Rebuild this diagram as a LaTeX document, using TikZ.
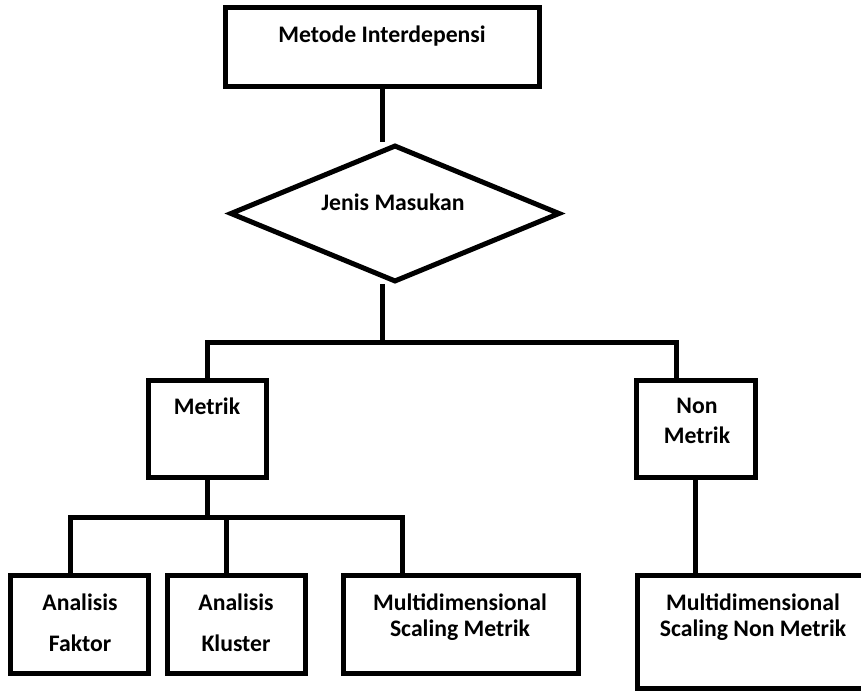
\documentclass[tikz,border=0pt]{standalone}
\usepackage{fontspec}
\setmainfont{Carlito}
\usetikzlibrary{shapes.geometric}
\begin{document}
\begin{tikzpicture}[x=1pt,y=-1pt,
  box/.style={draw=black,line width=5pt,minimum width=#1,inner sep=0pt},
  lbl/.style={font=\fontsize{23.7}{28}\selectfont\bfseries,inner sep=0pt,align=center,text=black},
  conn/.style={draw=black,line width=5pt}]
\useasboundingbox (0,0) rectangle (861,692);
\begin{scope}
\clip (0,0) rectangle (861,692);
% boxes
\node (top) [box=314pt,minimum height=79pt] at (382,47.5) {};
\node (dia) [diamond,draw=black,line width=5pt,minimum width=330pt,minimum height=137pt,inner sep=0pt] at (395,213.5) {};
\node (met) [box=118pt,minimum height=97pt] at (207,428.5) {};
\node (nm) [box=119pt,minimum height=97pt] at (695.5,428.5) {};
\node (af) [box=138pt,minimum height=98pt] at (79,624) {};
\node (ak) [box=138pt,minimum height=98pt] at (236,624) {};
\node (msm) [box=235pt,minimum height=98pt] at (460.5,624) {};
\node (msnm) [box=232pt,minimum height=113pt] at (753,631.5) {};
% labels
\node (ttop) [lbl] at (382,36) {Metode Interdepensi};
\node (tdia) [lbl] at (393,202) {Jenis Masukan};
\node (tmet) [lbl] at (207,406) {Metrik};
\node (tnm1) [lbl] at (697,406) {Non};
\node (tnm2) [lbl] at (697,435) {Metrik};
\node (taf1) [lbl] at (80,602) {Analisis};
\node (taf2) [lbl] at (80,643) {Faktor};
\node (tak1) [lbl] at (236,602) {Analisis};
\node (tak2) [lbl] at (236,643) {Kluster};
\node (tmsm1) [lbl] at (460,602) {Multidimensional};
\node (tmsm2) [lbl] at (460,630) {Scaling Metrik};
\node (tmsnm1) [lbl] at (753,602) {Multidimensional};
\node (tmsnm2) [lbl] at (753,630) {Scaling Non Metrik};
% connectors
\coordinate (b1) at (382,342);
\coordinate (bR) at (676,342);
\coordinate (m1) at (207,517);
\coordinate (l1) at (70,517);
\coordinate (l2) at (226,517);
\coordinate (l3) at (402,517);
\draw[conn] (top.south) -- (top.south |- dia.north);
\draw[conn] (top.south |- dia.south) -- (b1);
\draw[conn] (met.north) |- (bR) -- (nm.north -| bR);
\draw[conn] (met.south) -- (m1);
\draw[conn,line cap=rect] (l1) -- (l3);
\draw[conn] (l1) -- (af.north -| l1);
\draw[conn] (l2) -- (ak.north -| l2);
\draw[conn] (l3) -- (msm.north -| l3);
\draw[conn] (nm.south) -- (msnm.north -| nm.south);
\end{scope}
\end{tikzpicture}
\end{document}
